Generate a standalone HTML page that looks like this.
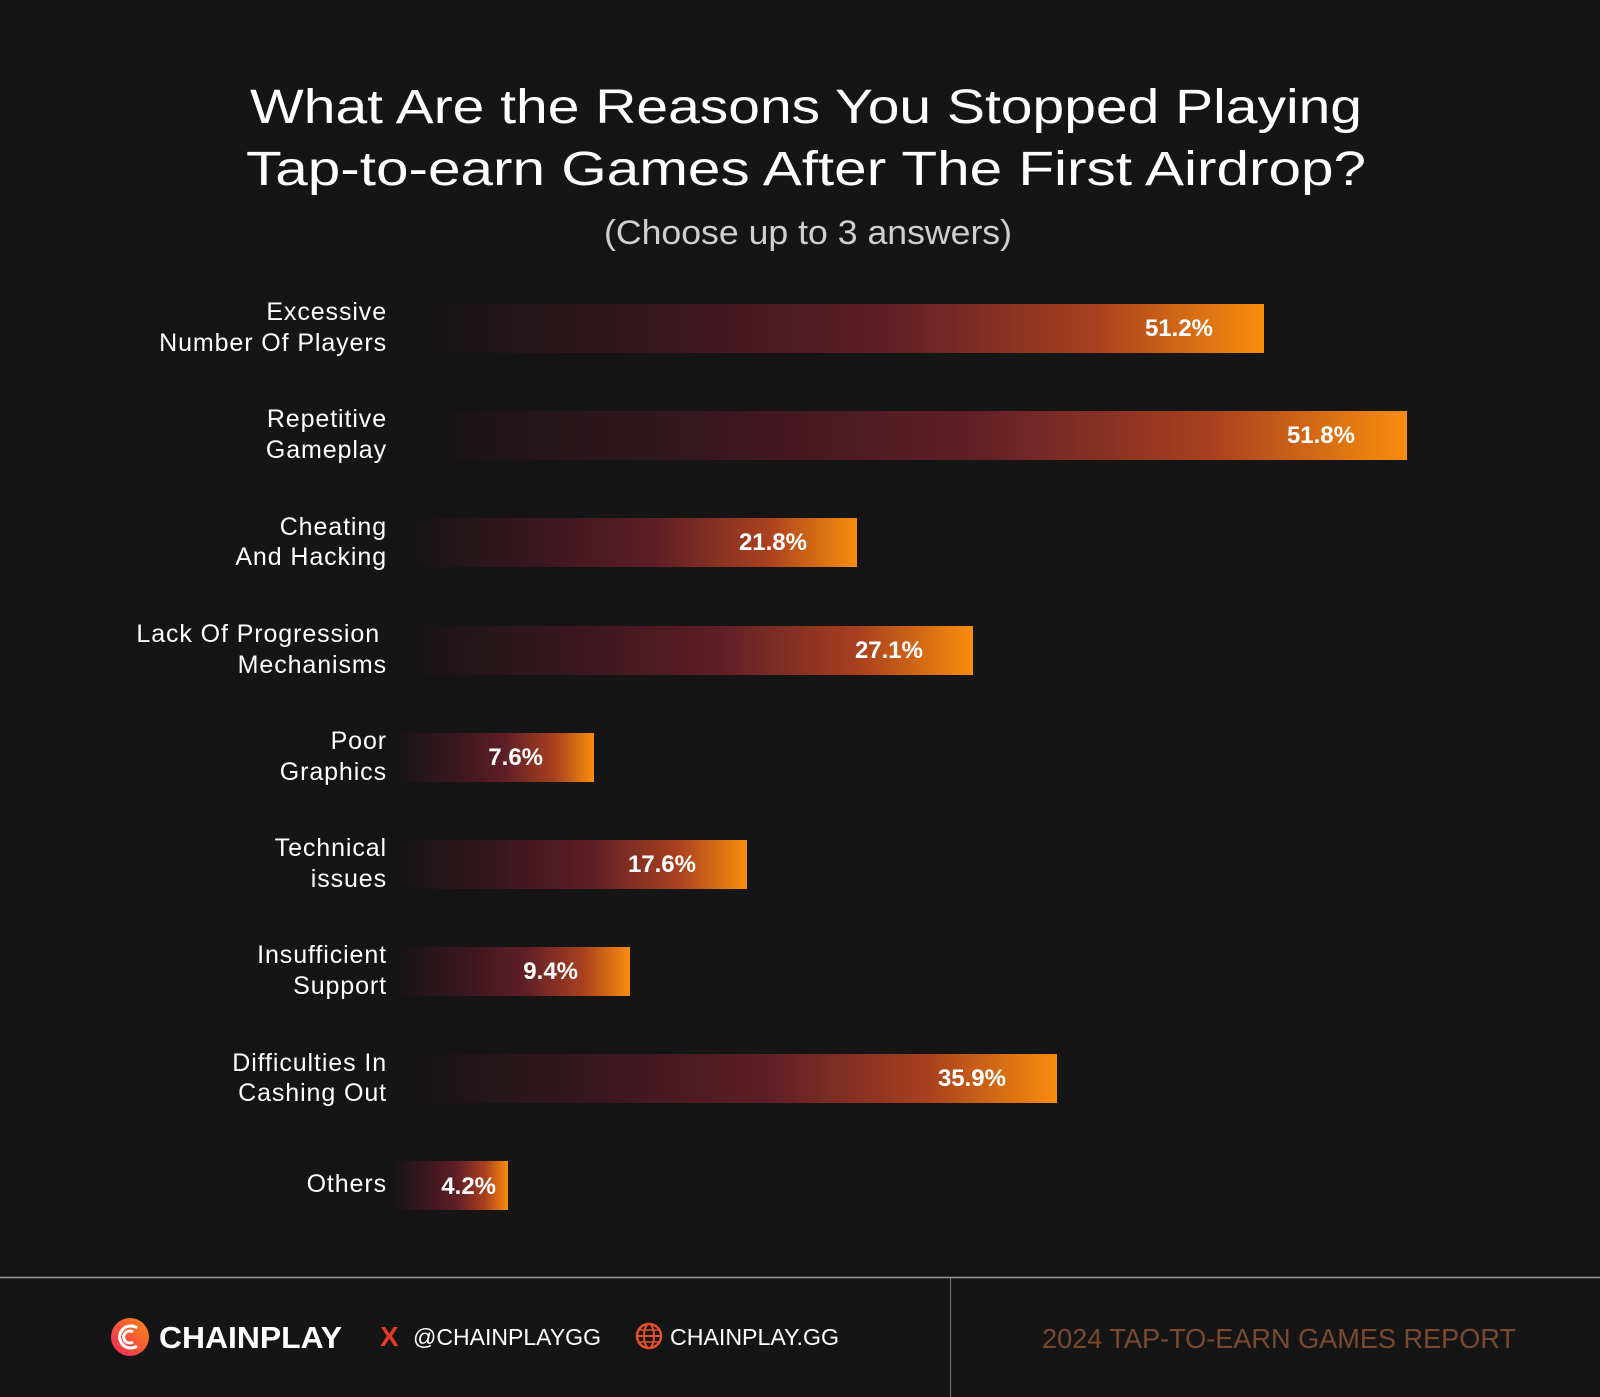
<!DOCTYPE html>
<html><head><meta charset="utf-8"><style>
html,body{margin:0;padding:0;background:#151515;}
svg{display:block;}
text{font-family:"Liberation Sans",sans-serif;}
</style></head><body>
<svg width="1600" height="1397" viewBox="0 0 1600 1397" xmlns="http://www.w3.org/2000/svg">
<defs>
<linearGradient id="g" x1="0" x2="1" y1="0" y2="0">
<stop offset="0" stop-color="#151515"/>
<stop offset="0.3" stop-color="#3a1620"/>
<stop offset="0.55" stop-color="#5e1e27"/>
<stop offset="0.8" stop-color="#a8401f"/>
<stop offset="1" stop-color="#f98d0c"/>
</linearGradient>
<linearGradient id="lg" x1="0" x2="1" y1="1" y2="0">
<stop offset="0" stop-color="#f0265a"/><stop offset="1" stop-color="#fb8a14"/>
</linearGradient>
</defs>
<rect width="1600" height="1397" fill="#151515"/>
<text x="806" y="123" fill="#fff" font-size="48" text-anchor="middle" textLength="1112" lengthAdjust="spacingAndGlyphs">What Are the Reasons You Stopped Playing</text>
<text x="806" y="185" fill="#fff" font-size="48" text-anchor="middle" textLength="1120" lengthAdjust="spacingAndGlyphs">Tap-to-earn Games After The First Airdrop?</text>
<text x="808" y="244" fill="#cfcfcf" font-size="34" text-anchor="middle" textLength="408" lengthAdjust="spacingAndGlyphs">(Choose up to 3 answers)</text>

<g font-size="25" fill="#fff" text-anchor="end" letter-spacing="0.9">
<text x="387" y="320">Excessive</text><text x="387" y="351">Number Of Players</text>
<text x="387" y="427">Repetitive</text><text x="387" y="458">Gameplay</text>
<text x="387" y="535">Cheating</text><text x="387" y="565">And Hacking</text>
<text x="380" y="642">Lack Of Progression</text><text x="387" y="673">Mechanisms</text>
<text x="387" y="749">Poor</text><text x="387" y="780">Graphics</text>
<text x="387" y="856">Technical</text><text x="387" y="887">issues</text>
<text x="387" y="963">Insufficient</text><text x="387" y="994">Support</text>
<text x="387" y="1071">Difficulties In</text><text x="387" y="1101">Cashing Out</text>
<text x="387" y="1192">Others</text>
</g>

<g>
<rect x="420" y="304" width="844" height="49" fill="url(#g)"/>
<rect x="420" y="411" width="987" height="49" fill="url(#g)"/>
<rect x="405" y="518" width="452" height="49" fill="url(#g)"/>
<rect x="405" y="626" width="568" height="49" fill="url(#g)"/>
<rect x="395" y="733" width="199" height="49" fill="url(#g)"/>
<rect x="398" y="840" width="349" height="49" fill="url(#g)"/>
<rect x="395" y="947" width="235" height="49" fill="url(#g)"/>
<rect x="410" y="1054" width="647" height="49" fill="url(#g)"/>
<rect x="392" y="1161" width="116" height="49" fill="url(#g)"/>
</g>
<g font-size="24" font-weight="bold" fill="#fff" text-anchor="end">
<text x="1213" y="336">51.2%</text>
<text x="1355" y="443">51.8%</text>
<text x="807" y="550">21.8%</text>
<text x="923" y="658">27.1%</text>
<text x="543" y="765">7.6%</text>
<text x="696" y="872">17.6%</text>
<text x="578" y="979">9.4%</text>
<text x="1006" y="1086">35.9%</text>
<text x="496" y="1194">4.2%</text>
</g>

<line x1="0" y1="1277.5" x2="1600" y2="1277.5" stroke="#9a9a9a" stroke-width="1.5"/>
<line x1="950.5" y1="1278" x2="950.5" y2="1397" stroke="#777" stroke-width="1"/>
<circle cx="130" cy="1337" r="19" fill="url(#lg)"/>
<path d="M137 1328 a11 11 0 1 0 0 18 M133 1332 a6 6 0 1 0 0 10" fill="none" stroke="#fff" stroke-width="3"/>
<text x="159" y="1348" fill="#fff" font-size="31" font-weight="bold" textLength="183" lengthAdjust="spacingAndGlyphs">CHAINPLAY</text>
<text x="380" y="1346" fill="#e8382c" font-size="28" font-weight="bold">X</text>
<text x="413" y="1345" fill="#fff" font-size="23" textLength="188" lengthAdjust="spacingAndGlyphs">@CHAINPLAYGG</text>
<circle cx="649" cy="1336" r="12" fill="none" stroke="#e8502a" stroke-width="2.5"/>
<ellipse cx="649" cy="1336" rx="5" ry="12" fill="none" stroke="#e8502a" stroke-width="2"/>
<line x1="637" y1="1336" x2="661" y2="1336" stroke="#e8502a" stroke-width="2"/>
<line x1="639" y1="1330" x2="659" y2="1330" stroke="#e8502a" stroke-width="1.5"/>
<line x1="639" y1="1342" x2="659" y2="1342" stroke="#e8502a" stroke-width="1.5"/>
<text x="670" y="1345" fill="#fff" font-size="23" textLength="169" lengthAdjust="spacingAndGlyphs">CHAINPLAY.GG</text>
<text x="1042" y="1348" fill="#7a4a30" font-size="28" textLength="474" lengthAdjust="spacingAndGlyphs">2024 TAP-TO-EARN GAMES REPORT</text>
</svg>
</body></html>
